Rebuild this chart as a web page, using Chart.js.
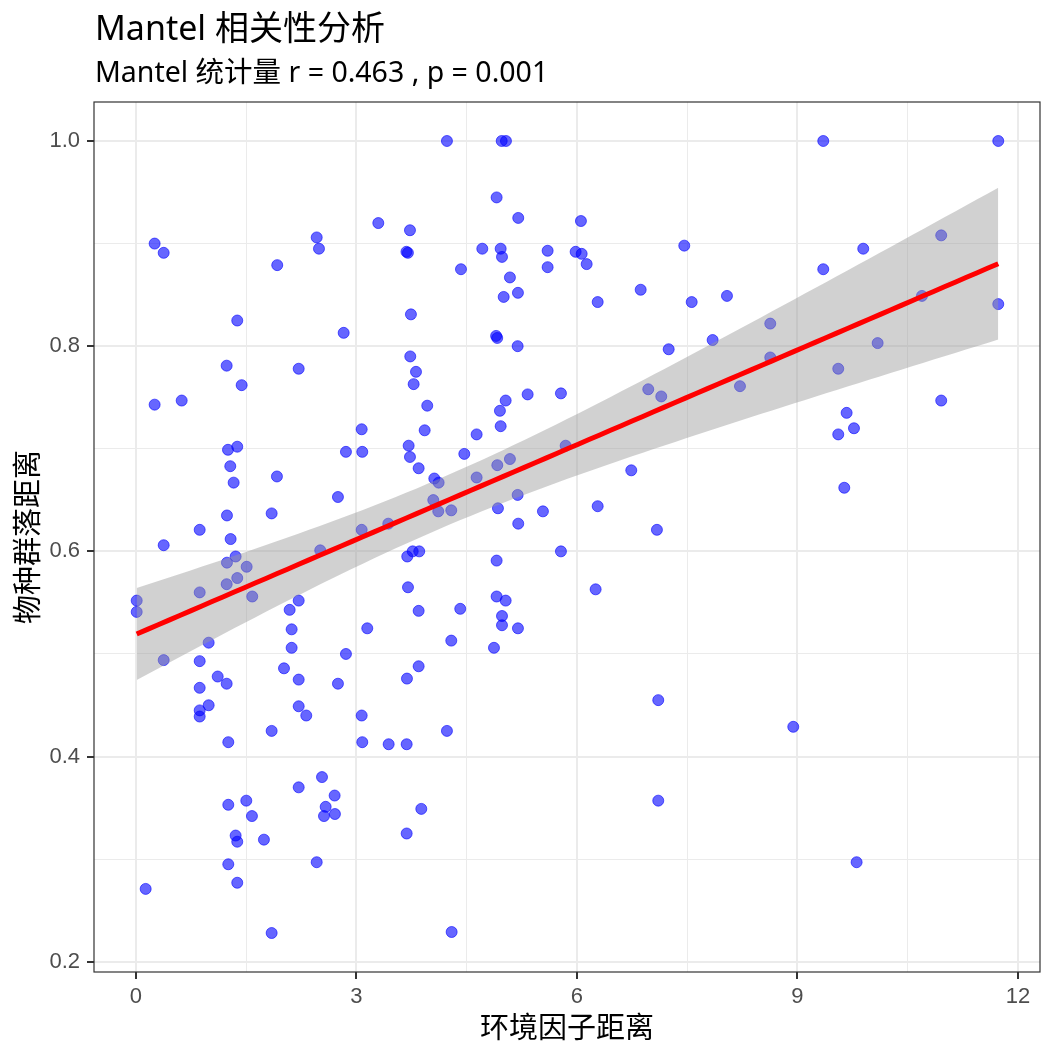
<!DOCTYPE html>
<html>
<head>
<meta charset="utf-8">
<script src="https://cdn.jsdelivr.net/npm/chart.js@4.4.1/dist/chart.umd.min.js"></script>
<style>
  html, body { margin: 0; padding: 0; background: #fff; }
  #wrap { width: 1056px; height: 1056px; }
</style>
</head>
<body>
<div id="wrap"><canvas id="mantelChart"></canvas></div>
<script>
// 环境因子距离 (x) 与 物种群落距离 (y)
const envDist = [
  0.254, 0.377, 1.922, 2.459, 2.490, 3.297, 3.728, 3.680, 3.700, 1.378,
  2.826, 3.741, 1.234, 2.214, 1.438, 3.732, 3.810, 3.778, 4.231, 4.976,
  5.034, 4.907, 5.201, 6.054, 4.712, 4.962, 4.980, 5.601, 5.982, 6.064,
  6.132, 7.460, 4.422, 5.088, 5.601, 5.197, 5.003, 6.867, 6.282, 7.561,
  4.900, 4.915, 5.193, 7.248, 7.846, 6.970, 7.147, 5.329, 5.782, 9.351,
  11.732, 10.956, 9.895, 9.351, 8.041, 10.694, 11.732, 8.630, 10.091, 8.630,
  9.555, 8.218, 10.956, 0.254, 0.622, 3.071, 1.252, 1.378, 2.857, 3.079,
  3.710, 3.728, 3.846, 1.283, 1.329, 1.918, 2.748, 1.238, 1.846, 0.867,
  1.288, 0.377, 3.071, 3.433, 2.507, 1.356, 1.238, 1.506, 1.378, 1.234,
  0.867, 1.582, 0.010, 0.010, 3.691, 3.765, 3.854, 3.701, 3.846, 2.214,
  2.091, 2.118, 3.147, 2.118, 0.989, 0.377, 0.867, 2.857, 2.014, 2.214,
  1.112, 1.234, 0.867, 2.748, 3.687, 3.846, 3.963, 5.030, 4.952, 3.928,
  4.635, 4.962, 4.467, 5.846, 5.088, 4.916, 4.059, 4.118, 4.635, 6.739,
  4.045, 4.113, 4.290, 5.193, 4.925, 5.537, 6.282, 5.201, 7.088, 5.782,
  4.907, 6.254, 4.907, 5.030, 4.412, 4.980, 4.980, 5.197, 4.290, 4.871,
  9.669, 9.769, 9.555, 9.637, 0.989, 0.867, 0.867, 2.214, 2.317, 3.071,
  1.846, 1.256, 3.079, 3.438, 3.683, 2.531, 2.214, 2.703, 2.581, 2.558,
  2.707, 1.256, 1.501, 1.578, 1.356, 1.378, 1.741, 3.683, 1.256, 2.459,
  1.378, 0.132, 1.846, 4.231, 7.106, 3.882, 7.106, 4.295, 8.943, 9.805
]
const speciesDist = [
  0.900, 0.891, 0.879, 0.906, 0.895, 0.920, 0.913, 0.892, 0.891, 0.825,
  0.813, 0.831, 0.781, 0.778, 0.762, 0.790, 0.775, 0.763, 1.000, 1.000,
  1.000, 0.945, 0.925, 0.922, 0.895, 0.895, 0.887, 0.893, 0.892, 0.890,
  0.880, 0.898, 0.875, 0.867, 0.877, 0.852, 0.848, 0.855, 0.843, 0.843,
  0.810, 0.808, 0.800, 0.797, 0.806, 0.758, 0.751, 0.753, 0.754, 1.000,
  1.000, 0.908, 0.895, 0.875, 0.849, 0.849, 0.841, 0.822, 0.803, 0.789,
  0.778, 0.761, 0.747, 0.743, 0.747, 0.719, 0.699, 0.702, 0.697, 0.697,
  0.703, 0.692, 0.681, 0.683, 0.667, 0.673, 0.653, 0.635, 0.637, 0.621,
  0.612, 0.606, 0.621, 0.627, 0.601, 0.595, 0.589, 0.585, 0.574, 0.568,
  0.560, 0.556, 0.552, 0.541, 0.595, 0.600, 0.600, 0.565, 0.542, 0.552,
  0.543, 0.524, 0.525, 0.506, 0.511, 0.494, 0.493, 0.500, 0.486, 0.475,
  0.478, 0.471, 0.467, 0.471, 0.476, 0.488, 0.742, 0.747, 0.737, 0.718,
  0.714, 0.722, 0.695, 0.703, 0.690, 0.684, 0.671, 0.667, 0.672, 0.679,
  0.650, 0.639, 0.640, 0.655, 0.642, 0.639, 0.644, 0.627, 0.621, 0.600,
  0.591, 0.563, 0.556, 0.552, 0.544, 0.537, 0.528, 0.525, 0.513, 0.506,
  0.735, 0.720, 0.714, 0.662, 0.450, 0.445, 0.439, 0.449, 0.440, 0.440,
  0.425, 0.414, 0.414, 0.412, 0.412, 0.380, 0.370, 0.362, 0.351, 0.342,
  0.344, 0.353, 0.357, 0.342, 0.323, 0.317, 0.319, 0.325, 0.295, 0.297,
  0.277, 0.271, 0.228, 0.425, 0.455, 0.349, 0.357, 0.229, 0.429, 0.297
]

const xMajorTicks = [0, 3, 6, 9, 12]
const xMinorTicks = [1.5, 4.5, 7.5, 10.5]
const yMajorTicks = [0.2, 0.4, 0.6, 0.8, 1.0]
const yMinorTicks = [0.3, 0.5, 0.7, 0.9]

const titleText = 'Mantel 相关性分析'
const subtitleText = 'Mantel 统计量 r = 0.463 , p = 0.001'
const xTitle = '环境因子距离'
const yTitle = '物种群落距离'

// 线性回归 + 95% 置信带 (类似 geom_smooth(method = "lm"))
function linearFit(xs, ys) {
  const n = xs.length
  const mx = xs.reduce((a, b) => a + b, 0) / n
  const my = ys.reduce((a, b) => a + b, 0) / n
  let sxx = 0, sxy = 0
  for (let i = 0; i < n; i++) {
    sxx += (xs[i] - mx) ** 2
    sxy += (xs[i] - mx) * (ys[i] - my)
  }
  const slope = sxy / sxx
  const intercept = my - slope * mx
  let sse = 0
  for (let i = 0; i < n; i++) sse += (ys[i] - intercept - slope * xs[i]) ** 2
  const s = Math.sqrt(sse / (n - 2))
  return { n, mx, sxx, slope, intercept, s }
}

const fit = linearFit(envDist, speciesDist)
const xMin = Math.min(...envDist)
const xMax = Math.max(...envDist)
const fitLine = [], bandUpper = [], bandLower = []
for (let i = 0; i <= 80; i++) {
  const x = xMin + (xMax - xMin) * i / 80
  const yhat = fit.intercept + fit.slope * x
  const se = fit.s * Math.sqrt(1 / fit.n + (x - fit.mx) ** 2 / fit.sxx)
  fitLine.push({ x, y: yhat })
  bandUpper.push({ x, y: yhat + 1.973 * se })
  bandLower.push({ x, y: yhat - 1.973 * se })
}

const points = envDist.map((x, i) => ({ x, y: speciesDist[i] }))

const isMajor = (v, list) => list.some(t => Math.abs(t - v) < 1e-6)

const panelPlugin = {
  id: 'panel',
  afterDraw(chart) {
    const { ctx, chartArea } = chart
    ctx.save()
    ctx.strokeStyle = '#333333'
    ctx.lineWidth = 1.2
    ctx.strokeRect(chartArea.left, chartArea.top, chartArea.right - chartArea.left, chartArea.bottom - chartArea.top)
    ctx.fillStyle = '#000'
    ctx.textBaseline = 'alphabetic'
    ctx.textAlign = 'left'
    ctx.font = '34px "Noto Sans", "Noto Sans CJK SC"'
    ctx.fillText(titleText, 95, 40)
    ctx.font = '28.5px "Noto Sans", "Noto Sans CJK SC"'
    ctx.fillText(subtitleText, 95, 82)
    ctx.restore()
  },
}

const ctx = document.getElementById('mantelChart').getContext('2d')

new Chart(ctx, {
  type: 'scatter',
  data: {
    datasets: [
      {
        label: 'points',
        data: points,
        backgroundColor: 'rgba(0, 0, 255, 0.6)',
        borderColor: 'rgba(0, 0, 255, 0.6)',
        borderWidth: 1,
        pointRadius: 5.5,
        order: 3,
      },
      {
        type: 'line',
        label: 'upper',
        data: bandUpper,
        borderWidth: 0,
        pointRadius: 0,
        fill: false,
        order: 2,
      },
      {
        type: 'line',
        label: 'lower',
        data: bandLower,
        borderWidth: 0,
        pointRadius: 0,
        fill: '-1',
        backgroundColor: 'rgba(153, 153, 153, 0.45)',
        order: 2,
      },
      {
        type: 'line',
        label: 'fit',
        data: fitLine,
        borderColor: '#ff0000',
        borderWidth: 5,
        pointRadius: 0,
        fill: false,
        order: 1,
      },
    ],
  },
  options: {
    responsive: true,
    maintainAspectRatio: false,
    animation: false,
    layout: { padding: { top: 102, right: 16, left: 0, bottom: 0 } },
    plugins: {
      legend: { display: false },
      tooltip: { enabled: false },
    },
    scales: {
      x: {
        type: 'linear',
        min: -0.571,
        max: 12.3,
        afterBuildTicks: scale => {
          scale.ticks = [...xMajorTicks, ...xMinorTicks].sort((a, b) => a - b).map(v => ({ value: v }))
        },
        afterFit: scale => { scale.height = 84 },
        border: { display: false },
        grid: {
          color: '#ebebeb',
          lineWidth: c => (isMajor(c.tick.value, xMajorTicks) ? 2 : 1),
          tickColor: c => (isMajor(c.tick.value, xMajorTicks) ? '#333333' : 'rgba(0,0,0,0)'),
          tickLength: 7,
          tickWidth: 2,
        },
        ticks: {
          autoSkip: false,
          maxRotation: 0,
          padding: 5,
          color: '#4d4d4d',
          font: { family: '"Liberation Sans", Arial', size: 22 },
          callback: v => (isMajor(v, xMajorTicks) ? String(v) : ''),
        },
        title: {
          display: true,
          text: xTitle,
          color: '#000',
          font: { family: '"Noto Sans CJK SC"', size: 29 },
          padding: { top: 0, bottom: 12 },
        },
      },
      y: {
        type: 'linear',
        min: 0.19,
        max: 1.038,
        afterBuildTicks: scale => {
          scale.ticks = [...yMajorTicks, ...yMinorTicks].sort((a, b) => a - b).map(v => ({ value: v }))
        },
        afterFit: scale => { scale.width = 94 },
        border: { display: false },
        grid: {
          color: '#ebebeb',
          lineWidth: c => (isMajor(c.tick.value, yMajorTicks) ? 2 : 1),
          tickColor: c => (isMajor(c.tick.value, yMajorTicks) ? '#333333' : 'rgba(0,0,0,0)'),
          tickLength: 7,
          tickWidth: 2,
        },
        ticks: {
          autoSkip: false,
          padding: 7,
          color: '#4d4d4d',
          font: { family: '"Liberation Sans", Arial', size: 22 },
          callback: v => (isMajor(v, yMajorTicks) ? v.toFixed(1) : ''),
        },
        title: {
          display: true,
          text: yTitle,
          color: '#000',
          font: { family: '"Noto Sans CJK SC"', size: 29 },
          padding: { top: 10, bottom: 0 },
        },
      },
    },
  },
  plugins: [panelPlugin],
})
</script>
</body>
</html>
